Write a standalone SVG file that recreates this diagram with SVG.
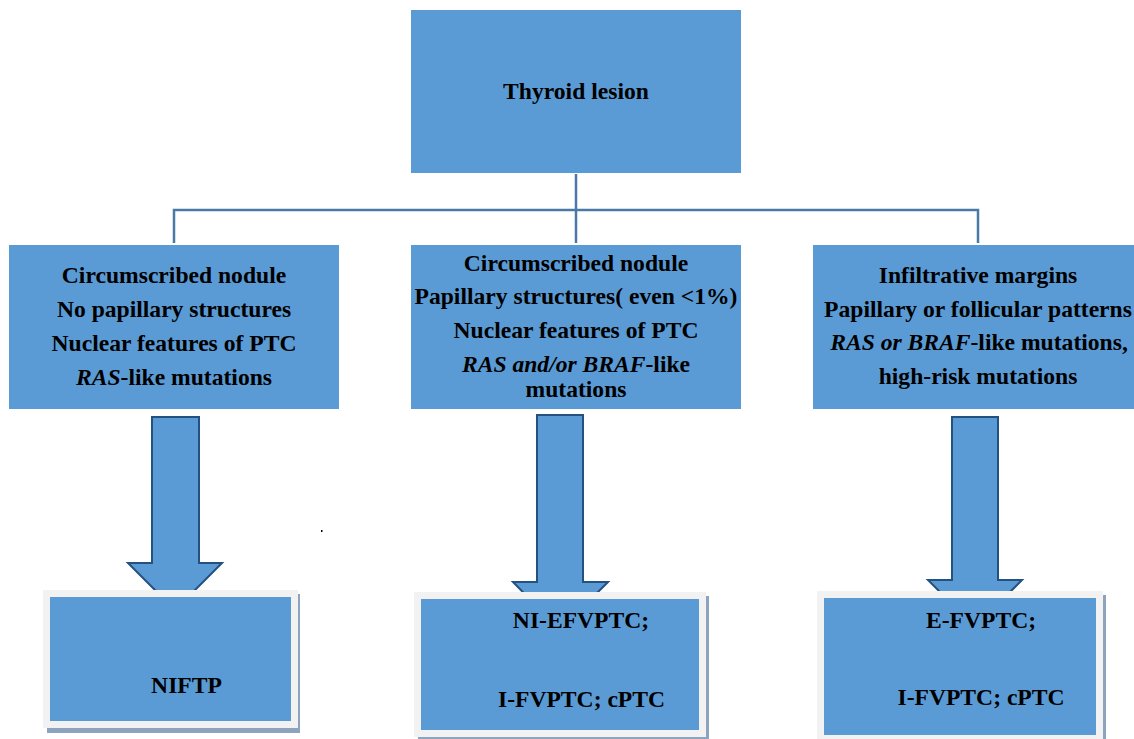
<svg xmlns="http://www.w3.org/2000/svg" width="1134" height="739" viewBox="0 0 1134 739">
<style>
.box{fill:#5b9bd5;}
text{font-family:'Liberation Serif','Times New Roman',serif;font-weight:700;font-size:23.6px;fill:#000;text-anchor:middle;}
.i{font-style:italic;}
.arrow{fill:#5b9bd5;stroke:#24517f;stroke-width:2;stroke-linejoin:miter;}
.conn{stroke:#4a78a8;stroke-width:2.5;fill:none;}
.frame{fill:#f2f2f2;}
.shadow{fill:#8ea3bd;}
</style>
<rect width="1134" height="739" fill="#ffffff"/>
<g id="connectors">
<path class="conn" d="M576 174 V243"/>
<path class="conn" d="M174 243 V210 H978 V243"/>
</g>
<g id="n-top">
<rect class="box" x="411" y="10" width="330" height="163"/>
<text x="576" y="99">Thyroid lesion</text>
</g>
<g id="n-left">
<rect class="box" x="9" y="245" width="330" height="164"/>
<text x="174" y="283">Circumscribed nodule</text>
<text x="174" y="317">No papillary structures</text>
<text x="174" y="351">Nuclear features of PTC</text>
<text x="174" y="385"><tspan class="i">RAS</tspan>-like mutations</text>
</g>
<g id="n-mid">
<rect class="box" x="411" y="245" width="330" height="164"/>
<text x="576" y="271">Circumscribed nodule</text>
<text x="576" y="304">Papillary structures( even &lt;1%)</text>
<text x="576" y="338">Nuclear features of PTC</text>
<text x="576" y="372"><tspan class="i">RAS and/or BRAF</tspan>-like</text>
<text x="576" y="397">mutations</text>
</g>
<g id="n-right">
<rect class="box" x="813" y="245" width="321" height="164"/>
<text x="978" y="283">Infiltrative margins</text>
<text x="978" y="317">Papillary or follicular patterns</text>
<text x="979" y="350"><tspan class="i">RAS or BRAF</tspan>-like mutations,</text>
<text x="978" y="384">high-risk mutations</text>
</g>
<g id="arrow-left">
<path class="arrow" d="M152 417 H199 V563 H222 L175 610 L128 563 H152 Z"/>
</g>
<g id="arrow-mid">
<path class="arrow" d="M537 415 H583 V582 H608 L560 630 L513 582 H537 Z"/>
</g>
<g id="arrow-right">
<path class="arrow" d="M952 417 H998 V580 H1022 L975 627 L928 580 H952 Z"/>
</g>
<g id="n-niftp">
<rect class="shadow" x="47" y="594" width="253" height="139"/>
<rect class="frame" x="43" y="590" width="255" height="138"/>
<rect class="box" x="50" y="597" width="241" height="124"/>
<text x="186.5" y="693">NIFTP</text>
</g>
<g id="n-mid-out">
<rect class="shadow" x="418" y="596" width="291" height="143"/>
<rect class="frame" x="414" y="592" width="292" height="145"/>
<rect class="box" x="421" y="599" width="278" height="131"/>
<text x="581" y="628">NI-EFVPTC;</text>
<text x="581.5" y="707">I-FVPTC; cPTC</text>
</g>
<g id="n-right-out">
<rect class="shadow" x="821" y="595" width="285" height="144"/>
<rect class="frame" x="817" y="591" width="286" height="148"/>
<rect class="box" x="824" y="598" width="272" height="137"/>
<text x="981" y="628">E-FVPTC;</text>
<text x="981" y="705">I-FVPTC; cPTC</text>
</g>
<rect x="321" y="530" width="1.5" height="2" fill="#000"/>
</svg>
